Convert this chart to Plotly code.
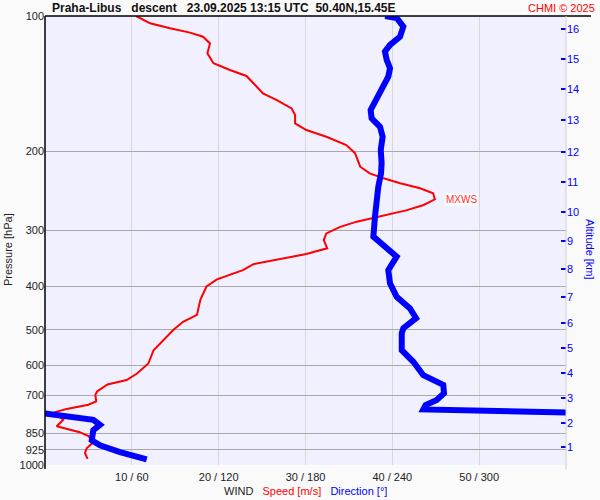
import math

import plotly.graph_objects as go

# wind speed profile [m/s] vs pressure [hPa]
speed_p = [100, 103.8, 106.5, 108.9, 111.2, 115.1, 121.1, 127.4, 131.9, 136.0, 142.5, 148.7,
           153.9, 160.6, 166.2, 173.4, 179.5, 185.8, 193.9, 202.1, 216.6, 224.2, 229.9, 235.8,
           242.0, 248.1, 256.0, 263.6, 270.6, 276.5, 281.1, 287.1, 294.9, 305.0, 315.5, 329.1,
           338.9, 347.8, 357.0, 368.0, 386.0, 400.4, 428.3, 463.0, 479.7, 499.7, 555.0, 594.2,
           625.5, 647.0, 661.5, 686, 698, 722, 734, 750, 763, 767, 793, 820, 830, 845, 862,
           889, 918, 940, 969]
speed = [10.5, 12.1, 14.4, 16.7, 18.2, 19.0, 18.7, 19.4, 21.3, 23.2, 24.2, 25.1,
         26.7, 28.4, 28.8, 28.8, 30.1, 32.4, 34.7, 35.7, 36.3, 37.4, 39.0, 40.9,
         43.2, 44.7, 44.9, 43.6, 41.7, 39.7, 37.8, 35.9, 34.0, 32.4, 32.1, 32.5,
         30.1, 27.1, 24.0, 22.8, 19.8, 18.6, 17.9, 17.5, 15.9, 14.8, 12.5, 11.9,
         10.6, 9.4, 7.2, 6.0, 5.8, 5.9, 5.0, 2.5, 1.15, 1.15, 2.1, 1.35, 2.5, 4.0, 5.0,
         5.6, 4.8, 4.6, 4.9]

# wind direction [deg] vs pressure [hPa]; None = wrap 360 -> 0
dir_p = [100, 101, 105.6, 111.2, 116, 120, 125.3, 130.7, 136.5, 144.9, 153.9, 162, 169,
         176.5, 185.8, 198.7, 212.8, 224.2, 240, 254.8, 280, 310, 323.6, 343.6, 368, 394,
         422, 448, 471, 496, 509, 555, 589, 631, 663, 692, 716, 735, 752, 757, 764,
         None, 768, 770, 782, 793, 814, 836, 881, 904, 936, 972]
direction = [235, 243, 247.6, 245.3, 238.4, 234.9, 236.1, 238.4, 237.2, 232.7, 228, 225, 225.7,
             231.5, 233.3, 232, 232.6, 232.2, 230.3, 229.2, 228, 226.9, 233.8, 243, 237.2, 238.4,
             243, 252.2, 256.4, 247.6, 246.5, 246.5, 254.5, 261.4, 275.2, 275.7, 270.7, 263, 261.4,
             300, 360, None, 0, 3.5, 19.6, 33.4, 38, 33.4, 32.3, 38, 51.8, 70.3]

p_ticks = [100, 200, 300, 400, 500, 600, 700, 850, 925, 1000]
x_ticks = [10, 20, 30, 40, 50, 60]
x_ticktext = ["10 / 60", "20 / 120", "30 / 180", "40 / 240", "50 / 300", ""]

# altitude [km] ticks placed at the sounding pressure of that height
alt_km = [1, 2, 3, 4, 5, 6, 7, 8, 9, 10, 11, 12, 13, 14, 15, 16]
alt_p = [910.5, 804.9, 710.2, 624.8, 549.8, 483.5, 421.9, 366.6, 317.0, 273.7,
         234.6, 200.6, 170.4, 145.7, 124.9, 107.1]

FONT = "Arial, Liberation Sans, sans-serif"

i_max = max(range(len(speed)), key=lambda i: speed[i])
mxws_spd, mxws_p = speed[i_max], speed_p[i_max]

fig = go.Figure()
fig.add_trace(go.Scatter(
    x=speed, y=speed_p, mode="lines",
    line=dict(color="#ff0000", width=2),
    xaxis="x", yaxis="y", showlegend=False, hoverinfo="skip",
))
fig.add_trace(go.Scatter(
    x=direction, y=dir_p, mode="lines",
    line=dict(color="#0000ff", width=6),
    xaxis="x2", yaxis="y", showlegend=False, hoverinfo="skip",
))
# invisible trace to activate the altitude axis
fig.add_trace(go.Scatter(
    x=[None], y=[None], xaxis="x", yaxis="y2", showlegend=False, hoverinfo="skip",
))

fig.update_layout(
    width=600,
    height=500,
    margin=dict(l=45, r=34, t=16, b=35),
    paper_bgcolor="#fafafa",
    plot_bgcolor="#f0f0ff",
    font=dict(family=FONT, size=11, color="#222222"),
    xaxis=dict(
        range=[0, 60], tickvals=x_ticks, ticktext=x_ticktext,
        showgrid=True, gridcolor="#d8d8d8", gridwidth=1,
        zeroline=False, showline=False, ticks="", automargin=False,
        ticklabelstandoff=4,
        tickfont=dict(size=11, color="#222222"),
    ),
    xaxis2=dict(range=[0, 360], overlaying="x", anchor="y", visible=False),
    yaxis=dict(
        type="log", range=[math.log10(1000), math.log10(100)],
        tickvals=p_ticks, ticktext=[str(v) for v in p_ticks],
        showgrid=True, gridcolor="#a8a8a8", gridwidth=1,
        zeroline=False, showline=False, ticks="", automargin=False,
        tickfont=dict(size=11, color="#222222"),
    ),
    yaxis2=dict(
        type="log", range=[math.log10(1000), math.log10(100)],
        overlaying="y", side="right", anchor="x",
        tickvals=alt_p, ticktext=[str(v) for v in alt_km],
        showgrid=False, zeroline=False, showline=False,
        ticks="inside", ticklen=5, tickwidth=1.5, tickcolor="#0000ff",
        tickfont=dict(size=11, color="#0000ff"), automargin=False,
    ),
)

y_mx = math.log10(mxws_p)
shapes = [
    dict(type="line", xref="paper", yref="paper", x0=0, x1=1.048, y0=1, y1=1,
         line=dict(color="#000000", width=1.5)),
    dict(type="line", xref="paper", yref="paper", x0=0, x1=0, y0=-0.009, y1=1,
         line=dict(color="#000000", width=1.5)),
    dict(type="line", xref="paper", yref="paper", x0=1, x1=1, y0=-0.011, y1=1,
         line=dict(color="#d0d0d0", width=1)),
    dict(type="line", xref="paper", yref="y", x0=-0.0045, x1=0.021, y0=y_mx, y1=y_mx,
         line=dict(color="#ff0000", width=1)),
    dict(type="line", xref="paper", yref="y", x0=0.979, x1=1.003, y0=y_mx, y1=y_mx,
         line=dict(color="#ff0000", width=1)),
    dict(type="line", xref="x", yref="y", x0=mxws_spd, x1=mxws_spd + 0.9, y0=y_mx, y1=y_mx,
         line=dict(color="#ff0000", width=1)),
]
fig.update_layout(shapes=shapes)

nb = "\u00a0"
annotations = [
    dict(text=f"<b>Praha-Libus{nb*3}descent{nb*3}23.09.2025 13:15 UTC{nb*2}50.40N,15.45E</b>",
         xref="paper", yref="paper", x=0.0096, y=1.0178, xanchor="left", yanchor="middle",
         showarrow=False, font=dict(size=12, color="#111111")),
    dict(text="CHMI © 2025", xref="paper", yref="paper", x=1.0595, y=1.0178,
         xanchor="right", yanchor="middle", showarrow=False,
         font=dict(size=11, color="#ff0000")),
    dict(text="Pressure [hPa]", xref="paper", yref="paper", x=-0.071, y=0.4788,
         xanchor="center", yanchor="middle", textangle=-90, showarrow=False,
         font=dict(size=11, color="#222222")),
    dict(text="Altitude [km]", xref="paper", yref="paper", x=1.046, y=0.4788,
         xanchor="center", yanchor="middle", textangle=90, showarrow=False,
         font=dict(size=11, color="#0000ff")),
    dict(text=(f"WIND{nb*3}<span style='color:#ff0000'>Speed [m/s]</span>{nb*3}"
               "<span style='color:#0000ff'>Direction [°]</span>"),
         xref="paper", yref="paper", x=0.5, y=-0.0579, xanchor="center", yanchor="middle",
         showarrow=False, font=dict(size=11, color="#222222")),
    dict(text="MXWS", xref="x", yref="y", x=mxws_spd + 1.15, y=y_mx,
         xanchor="left", yanchor="middle", showarrow=False, bgcolor="#ffffff",
         borderpad=0, font=dict(size=10, color="#ff3030")),
]
fig.update_layout(annotations=annotations)

# the page's default body margin would shift the 600x500 figure
fig.write_html("out.html", config={"displayModeBar": False},
               post_script="document.body.style.margin='0';")
